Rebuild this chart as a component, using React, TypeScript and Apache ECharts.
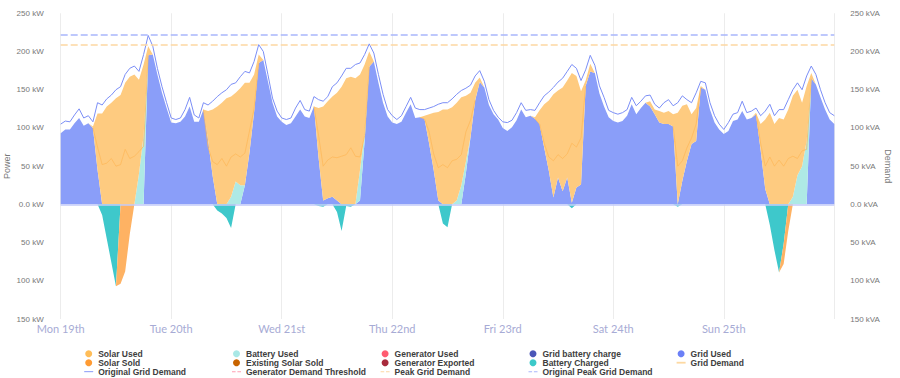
import React, { useEffect, useRef } from 'react';
import * as echarts from 'echarts';

// Week of Mon 19th 00:00 .. Mon 26th 00:00, hourly readings (169 points)
const DAY_LABELS = ['Mon 19th', 'Tue 20th', 'Wed 21st', 'Thu 22nd', 'Fri 23rd', 'Sat 24th', 'Sun 25th'];

// Grid Used (kW), hourly
const gridUsed = [
  93, 98, 98, 106, 113, 103, 106, 100, 45, 0, 0, 0, 0, 0, 0, 0, 0, 0, 0, 195, 196, 170, 146, 126,
  107, 106, 108, 115, 128, 108, 108, 124, 84, 37, 0, 0, 0, 0, 0, 0, 25, 68, 121, 185, 189, 161, 133, 115,
  108, 104, 106, 115, 124, 115, 113, 128, 61, 5, 8, 10, 5, 0, 0, 0, 0, 5, 83, 180, 187, 159, 133, 115,
  107, 105, 108, 120, 131, 113, 114, 112, 80, 45, 5, 0, 0, 0, 0, 0, 41, 88, 136, 160, 153, 130, 118, 111,
  100, 96, 101, 110, 124, 114, 116, 112, 105, 74, 44, 9, 35, 17, 35, 2, 22, 26, 155, 174, 172, 145, 128, 114,
  109, 107, 109, 116, 131, 118, 126, 133, 128, 118, 107, 105, 105, 102, 0, 31, 57, 79, 83, 153, 150, 124, 107, 98,
  92, 96, 109, 111, 122, 111, 113, 118, 71, 20, 0, 0, 0, 0, 0, 0, 0, 0, 0, 165, 157, 140, 124, 111,
  105,
];

// Original Grid Demand (kVA), hourly
const originalGridDemand = [
  105, 109, 108, 117, 125, 113, 116, 108, 133, 130, 138, 143, 150, 154, 170, 178, 181, 174, 196, 221, 207, 178, 154, 133,
  113, 111, 113, 124, 140, 117, 113, 133, 130, 135, 141, 146, 150, 157, 159, 167, 174, 172, 187, 209, 200, 170, 139, 122,
  113, 111, 113, 126, 136, 124, 122, 141, 137, 135, 141, 154, 159, 168, 178, 178, 183, 185, 196, 210, 198, 170, 144, 124,
  116, 111, 116, 128, 140, 126, 124, 124, 126, 128, 131, 133, 133, 138, 144, 149, 152, 156, 168, 175, 161, 137, 123, 114,
  108, 107, 110, 120, 133, 123, 124, 123, 133, 142, 147, 153, 160, 165, 174, 183, 178, 162, 176, 195, 182, 155, 140, 123,
  120, 118, 120, 124, 140, 129, 135, 142, 143, 131, 126, 133, 137, 129, 133, 142, 137, 133, 146, 161, 159, 133, 116, 105,
  98, 107, 118, 120, 135, 120, 122, 126, 116, 122, 131, 116, 124, 124, 137, 150, 159, 150, 168, 181, 170, 150, 133, 120,
  116,
];

// Sparse readings: [hour, kW]; hours not listed are zero
const solarUsedPts = [
  [7, 2], [8, 74], [9, 119], [10, 128], [11, 133], [12, 139], [13, 143], [14, 159], [15, 167], [16, 170], [17, 123], [18, 93], [19, 12],
  [32, 38], [33, 87], [34, 128], [35, 133], [36, 139], [37, 131], [38, 116], [39, 127], [40, 134], [41, 91], [42, 49], [43, 11],
  [56, 65], [57, 123], [58, 127], [59, 131], [60, 141], [61, 154], [62, 165], [63, 167], [64, 165], [65, 125], [66, 90], [67, 20],
  [79, 4], [80, 38], [81, 75], [82, 116], [83, 124], [84, 124], [85, 127], [86, 128], [87, 115], [88, 86], [89, 58], [90, 23], [91, 6],
  [103, 2], [104, 18], [105, 57], [106, 92], [107, 135], [108, 114], [109, 136], [110, 127], [111, 170], [112, 146], [113, 122], [114, 7], [115, 10],
  [128, 7], [129, 6], [130, 15], [131, 15], [132, 17], [133, 16], [134, 120], [135, 98], [136, 74], [137, 39], [138, 43], [139, 2],
  [151, 2], [152, 34], [153, 91], [154, 120], [155, 105], [156, 113], [157, 111], [158, 124], [159, 132], [160, 112], [161, 83], [162, 72], [163, 7],
];
const batteryUsedPts = [
  [17, 40], [18, 90],
  [37, 10], [38, 30], [39, 25],
  [65, 40], [66, 10],
  [86, 5], [87, 25], [88, 15],
  [159, 10], [160, 38], [161, 50], [162, 83],
];
const batteryChargedPts = [
  [9, -14], [10, -45], [11, -76], [12, -107],
  [34, -8], [35, -12], [36, -18], [37, -31],
  [56, -2], [57, -3], [60, -10], [61, -35], [62, -2], [63, -3],
  [83, -25], [84, -30],
  [111, -5],
  [134, -3],
  [154, -27], [155, -60], [156, -89], [157, -52],
];
const solarSoldPts = [
  [13, -104], [14, -88], [15, -39],
  [157, -26], [158, -35],
];
// Grid Demand (kVA) readings during solar hours
const gridDemandPts = [
  [7, 100], [8, 75], [9, 52], [10, 54], [11, 60], [12, 50], [13, 52], [14, 72], [15, 60], [16, 63], [17, 69], [18, 76], [19, 195],
  [31, 124], [32, 75], [33, 56], [34, 52], [35, 60], [36, 50], [37, 62], [38, 66], [39, 62], [40, 67], [41, 96], [42, 125], [43, 185],
  [55, 128], [56, 90], [57, 50], [58, 58], [59, 62], [60, 61], [61, 63], [62, 65], [63, 74], [64, 63], [65, 62], [66, 90], [67, 180],
  [78, 114], [79, 112], [80, 95], [81, 66], [82, 48], [83, 52], [84, 48], [85, 57], [86, 59], [87, 65], [88, 95], [89, 110], [90, 136],
  [103, 112], [104, 105], [105, 80], [106, 62], [107, 57], [108, 65], [109, 60], [110, 66], [111, 80], [112, 75], [113, 87], [114, 155],
  [133, 102], [134, 50], [135, 57], [136, 74], [137, 87], [138, 105], [139, 153],
  [151, 118], [152, 80], [153, 50], [154, 62], [155, 50], [156, 58], [157, 50], [158, 60], [159, 63], [160, 60], [161, 70], [162, 72], [163, 165],
];

const PEAK_GRID_DEMAND = 209;
const ORIGINAL_PEAK_GRID_DEMAND = 222;

const HOURS = gridUsed.map((_, i) => String(i));
const fromPoints = (pts: number[][], fill: any) => {
  const arr: any[] = HOURS.map(() => fill);
  for (const [h, v] of pts) arr[h] = v;
  return arr;
};
const isDayStart = (i: number) => i % 24 === 0;

const LINE_ICON = 'path://M0,0H10V1H0Z';
const THICK_LINE_ICON = 'path://M0,0H10V2H0Z';
const DASH_ICON = 'path://M0,0H4V1H0ZM6,0H10V1H6Z';

const C = {
  gridUsed: '#6b80f7', gridUsedArea: '#8a9ef9',
  batteryUsed: '#a9e8e6', batteryUsedArea: '#aee9e5',
  solarUsed: '#ffbd58', solarUsedArea: '#fecb80',
  batteryCharged: '#3cc9c9', batteryChargedArea: '#3ec8cb',
  solarSold: '#ff9b33', solarSoldArea: '#feb263',
  existingSolarSold: '#c86400',
  generatorUsed: '#ff5b70', generatorExported: '#a82a3c',
  gridBatteryCharge: '#4b56b7',
  originalGridDemand: '#7b8ef6',
  gridDemandLine: '#fdb85a', gridDemandLegend: '#fdd9a2',
  genThreshold: '#ffa0b2',
  peak: '#fdd7a2', originalPeak: '#a9b6fb',
};

const areaSeries = (name: string, stack: string, vals: any[], color: string, area: string) => ({
  name, type: 'line', stack, data: vals, symbol: 'none', showSymbol: false,
  lineStyle: { width: 0, color }, itemStyle: { color },
  areaStyle: { color: area, opacity: 1 },
});
const emptySeries = (name: string, color: string, dashed = false) => ({
  name, type: 'line', data: [], symbol: 'none',
  lineStyle: { width: 1, color, type: dashed ? [7, 3] : 'solid' }, itemStyle: { color },
});
const levelSeries = (name: string, value: number, color: string) => ({
  name, type: 'line', data: [], symbol: 'none',
  lineStyle: { width: 1.5, color, type: [7, 3] }, itemStyle: { color },
  markLine: {
    silent: true, symbol: ['none', 'none'], label: { show: false },
    lineStyle: { color, width: 1.5, type: [7, 3] },
    data: [{ yAxis: value }],
  },
});

const legendBase = {
  orient: 'vertical', top: 349.2, itemWidth: 9, itemHeight: 7, itemGap: 0, padding: 0,
  selectedMode: false,
  textStyle: { fontSize: 8.5, fontWeight: 'bold', color: '#3d3d3d', fontFamily: 'Liberation Sans, Arial, sans-serif', lineHeight: 8 },
};
const li = (name: string, icon: string, color: string) => ({ name, icon, itemStyle: { color, borderWidth: 0 } });

const axisName = { color: '#777', fontSize: 9 };

const option: any = {
  animation: false,
  backgroundColor: '#ffffff',
  textStyle: { fontFamily: 'Liberation Sans, Arial, sans-serif' },
  grid: { left: 60.7, top: 13.3, width: 773.6, height: 305.7, outerBoundsMode: 'none', containLabel: false },
  xAxis: {
    type: 'category', data: HOURS, boundaryGap: false,
    axisLine: { show: false }, axisTick: { show: false },
    splitLine: { show: true, interval: (i: number) => isDayStart(i), lineStyle: { color: '#ececec', width: 1 } },
    axisLabel: {
      interval: (i: number) => isDayStart(i),
      formatter: (_v: string, i: number) => DAY_LABELS[i / 24] ?? '',
      color: '#a7abd5', fontSize: 11, fontFamily: 'Lato, sans-serif', margin: 4,
    },
  },
  yAxis: [
    {
      type: 'value', min: -150, max: 250, interval: 50, position: 'left',
      name: 'Power', nameLocation: 'middle', nameGap: 49, nameMoveOverlap: false,
      nameTextStyle: axisName,
      axisLine: { show: false }, axisTick: { show: false }, splitLine: { show: false },
      axisLabel: { formatter: (v: number) => (v === 0 ? '0.0 kW' : `${Math.abs(v)} kW`), color: '#777', fontSize: 8, margin: 17 },
    },
    {
      type: 'value', min: -150, max: 250, interval: 50, position: 'right',
      name: 'Demand', nameLocation: 'middle', nameGap: 49, nameRotate: -90, nameMoveOverlap: false,
      nameTextStyle: axisName,
      axisLine: { show: false }, axisTick: { show: false }, splitLine: { show: false },
      axisLabel: { formatter: (v: number) => (v === 0 ? '0.0 kVA' : `${Math.abs(v)} kVA`), color: '#777', fontSize: 8, margin: 16 },
    },
  ],
  legend: [
    { ...legendBase, left: 84.2, data: [li('Solar Used', 'circle', C.solarUsed), li('Solar Sold', 'circle', C.solarSold), li('Original Grid Demand', LINE_ICON, C.originalGridDemand)] },
    { ...legendBase, left: 232, data: [li('Battery Used', 'circle', C.batteryUsed), li('Existing Solar Sold', 'circle', C.existingSolarSold), li('Generator Demand Threshold', DASH_ICON, C.genThreshold)] },
    { ...legendBase, left: 380.6, data: [li('Generator Used', 'circle', C.generatorUsed), li('Generator Exported', 'circle', C.generatorExported), li('Peak Grid Demand', DASH_ICON, C.peak)] },
    { ...legendBase, left: 528.5, data: [li('Grid battery charge', 'circle', C.gridBatteryCharge), li('Battery Charged', 'circle', C.batteryCharged), li('Original Peak Grid Demand', DASH_ICON, C.originalPeak)] },
    { ...legendBase, left: 676.6, data: [li('Grid Used', 'circle', C.gridUsed), li('Grid Demand', THICK_LINE_ICON, C.gridDemandLegend)] },
  ],
  series: [
    areaSeries('Grid Used', 'pos', gridUsed, C.gridUsed, C.gridUsedArea),
    areaSeries('Battery Used', 'pos', fromPoints(batteryUsedPts, 0), C.batteryUsed, C.batteryUsedArea),
    areaSeries('Solar Used', 'pos', fromPoints(solarUsedPts, 0), C.solarUsed, C.solarUsedArea),
    areaSeries('Battery Charged', 'neg', fromPoints(batteryChargedPts, 0), C.batteryCharged, C.batteryChargedArea),
    areaSeries('Solar Sold', 'neg', fromPoints(solarSoldPts, 0), C.solarSold, C.solarSoldArea),
    emptySeries('Existing Solar Sold', C.existingSolarSold),
    emptySeries('Generator Used', C.generatorUsed),
    emptySeries('Generator Exported', C.generatorExported),
    emptySeries('Grid battery charge', C.gridBatteryCharge),
    {
      name: 'Grid Demand', type: 'line', data: fromPoints(gridDemandPts, '-'), symbol: 'none',
      lineStyle: { width: 1, color: C.gridDemandLine, opacity: 0.75 }, itemStyle: { color: C.gridDemandLegend },
    },
    {
      name: 'Original Grid Demand', type: 'line', data: originalGridDemand, symbol: 'none',
      lineStyle: { width: 1, color: C.originalGridDemand }, itemStyle: { color: C.originalGridDemand },
    },
    emptySeries('Generator Demand Threshold', C.genThreshold, true),
    levelSeries('Peak Grid Demand', PEAK_GRID_DEMAND, C.peak),
    levelSeries('Original Peak Grid Demand', ORIGINAL_PEAK_GRID_DEMAND, C.originalPeak),
    {
      name: 'zero-line', type: 'line', data: [], symbol: 'none',
      markLine: {
        silent: true, symbol: ['none', 'none'], label: { show: false },
        lineStyle: { color: '#c3cbf8', width: 1.5, type: 'solid' },
        data: [{ yAxis: 0 }],
      },
    },
  ],
};

export default function App() {
  const ref = useRef<HTMLDivElement>(null);
  useEffect(() => {
    const chart = echarts.init(ref.current!, undefined, { renderer: 'svg' });
    chart.setOption(option);
    return () => chart.dispose();
  }, []);
  return (
    <div
      ref={ref}
      style={{ position: 'absolute', left: 0, top: 0, width: 900, height: 378, background: '#fff' }}
    />
  );
}
